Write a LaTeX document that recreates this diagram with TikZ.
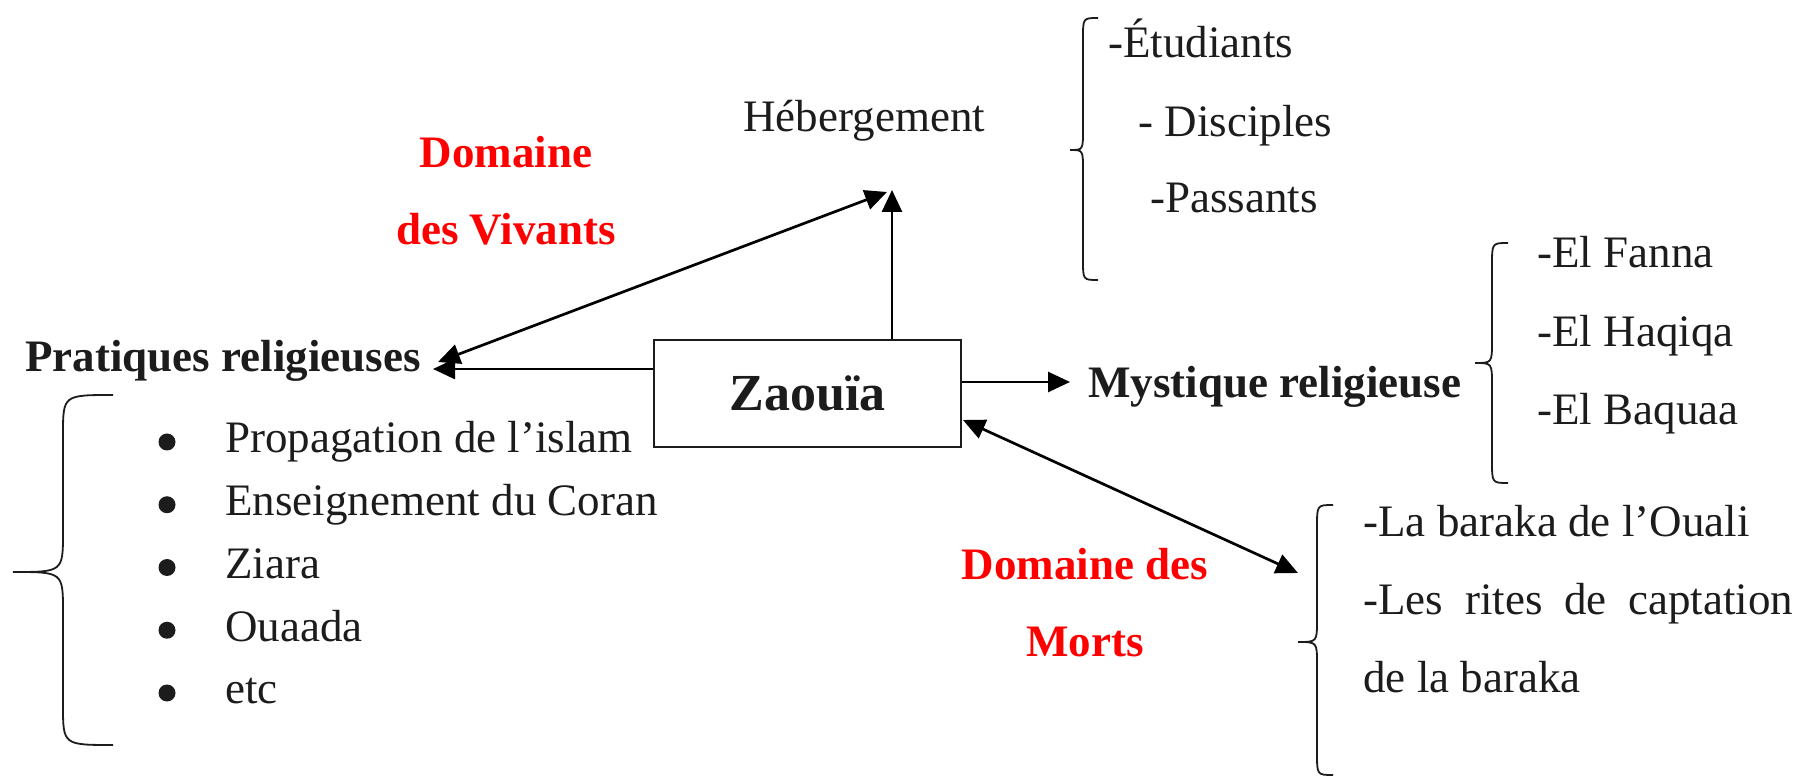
\documentclass[tikz,border=0pt]{standalone}
\usepackage{fontspec}
\setmainfont{Liberation Serif}
\usetikzlibrary{arrows.meta}
\definecolor{txt}{HTML}{1C1C1C}
\definecolor{domred}{HTML}{FF0000}
% curly brace: #1 x of stem, #2 top y, #3 bottom y, #4 x of ends, #5 x of tip, #6 y of tip, #7 radius
\newcommand{\mybrace}[7]{%
  \draw[bracestyle] (#4,#2) .. controls (#1,#2) .. (#1,#2+#7) -- (#1,#6-#7)
    .. controls (#1,#6) .. (#5,#6) .. controls (#1,#6) .. (#1,#6+#7)
    -- (#1,#3-#7) .. controls (#1,#3) .. (#4,#3);}
\tikzset{
  lbl/.style={anchor=base west, inner sep=0pt, text=txt, font=\fontsize{22.5}{27}\selectfont},
  blbl/.style={lbl, font=\fontsize{22.5}{27}\selectfont\bfseries},
  redlbl/.style={anchor=base, inner sep=0pt, text=domred, font=\fontsize{22.5}{27}\selectfont\bfseries},
  bul/.style={circle, fill=txt, inner sep=0pt, minimum size=8.5pt},
  zbox/.style={draw=txt, line width=1.3pt, minimum width=153.5pt, minimum height=53.5pt, inner sep=0pt, text=txt, font=\fontsize{26}{30}\selectfont\bfseries},
  arr/.style={draw=black, line width=1.35pt, -{Triangle[length=11pt,width=10pt]}},
  darr/.style={draw=black, line width=1.35pt, {Triangle[length=11pt,width=10pt]}-{Triangle[length=11pt,width=10pt]}},
  bracestyle/.style={draw=txt, line width=0.9pt}
}
\begin{document}
\begin{tikzpicture}[x=0.5pt,y=-0.5pt]
\useasboundingbox (0,0) rectangle (1798,779);

% central box
\node[zbox] (z) at (807.5,393.5) {Zaouïa};

% labels
\node[redlbl] (dv1) at (506,168) {Domaine};
\node[redlbl] (dv2) at (506,245) {des Vivants};
\node[lbl] (heb) at (743,132) {Hébergement};
\node[lbl] (etu) at (1108,58) {-Étudiants};
\node[lbl] (dis) at (1138,137) {- Disciples};
\node[lbl] (pas) at (1150,213) {-Passants};
\node[blbl] (prat) at (25,372) {Pratiques religieuses};
\node[blbl] (myst) at (1088,398) {Mystique religieuse};
\node[lbl] (fan) at (1537,268) {-El Fanna};
\node[lbl] (haq) at (1537,347) {-El Haqiqa};
\node[lbl] (baq) at (1537,425) {-El Baquaa};
\node[redlbl] (dm1) at (1085,580) {Domaine des};
\node[redlbl] (dm2) at (1085,657) {Morts};
\node[lbl] (bar1) at (1363,537) {-La baraka de l’Ouali};
\node[lbl] (bar2) at (1363,615) {\makebox[215pt][s]{-Les rites de captation}};
\node[lbl] (bar3) at (1363,692) {de la baraka};

% bulleted list
\node[bul] (b1) at (167,442) {};
\node[bul] (b2) at (167,504.75) {};
\node[bul] (b3) at (167,567.5) {};
\node[bul] (b4) at (167,630.25) {};
\node[bul] (b5) at (167,693) {};
\node[lbl] (i1) at (225,453) {Propagation de l’islam};
\node[lbl] (i2) at (225,515.75) {Enseignement du Coran};
\node[lbl] (i3) at (225,578.5) {Ziara};
\node[lbl] (i4) at (225,641.25) {Ouaada};
\node[lbl] (i5) at (225,704) {etc};

% connector end points
\coordinate (hebtip) at (892,190);
\coordinate (hebtipd) at (887,192);
\coordinate (prtip) at (433,369);
\coordinate (prtipd) at (438,362);
\coordinate (mytip) at (1070,382);
\coordinate (zse) at (963,420);
\coordinate (mortip) at (1298,573);

% connectors
\draw[arr] (z.north -| hebtip) -- (hebtip);
\draw[darr] (prtipd) -- (hebtipd);
\draw[arr] (z.west |- prtip) -- (prtip);
\draw[arr] (z.east |- mytip) -- (mytip);
\draw[darr] (zse) -- (mortip);

% braces
\mybrace{1083}{18}{280}{1098}{1070}{150}{20}
\mybrace{1492}{243}{483}{1508}{1475}{363}{22}
\mybrace{1317}{505}{775}{1333}{1298}{642}{22}
\mybrace{63}{395}{745}{113}{13}{572}{40}
\end{tikzpicture}
\end{document}
